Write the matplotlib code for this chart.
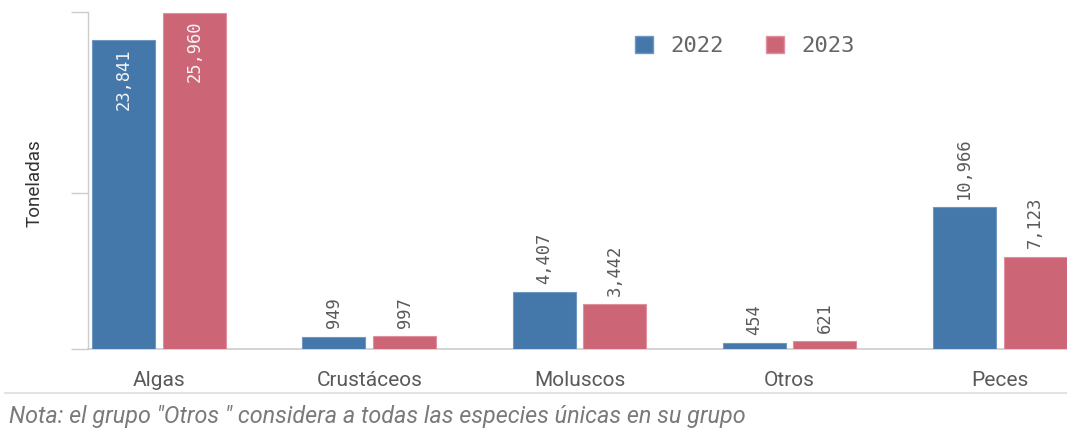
import matplotlib
matplotlib.use("Agg")
import matplotlib.pyplot as plt
import numpy as np
from matplotlib.patches import Rectangle
from matplotlib.lines import Line2D

categories = ["Algas", "Crustáceos", "Moluscos", "Otros", "Peces"]
series_names = ["2022", "2023"]
values_2022 = [23841, 949, 4407, 454, 10966]
values_2023 = [25960, 997, 3442, 621, 7123]
ytick_values = [0, 12000, 26000]
y_label = "Toneladas"
note = 'Nota: el grupo "Otros " considera a todas las especies únicas en su grupo'

colors = ["#4477aa", "#cc6677"]
edge_colors = ["#6f97c4", "#e0909c"]

W, H = 1067, 437
fig = plt.figure(figsize=(W / 100, H / 100), dpi=100)
ax = fig.add_axes([88 / W, 1 - 349 / H, (W - 88) / W, 337 / H])

x = np.arange(len(categories))
offset = 0.168
width = 0.30
mono = "DejaVu Sans Mono"

def fmt(v):
    return f"{v:,}"

for i, (vals, c, ec) in enumerate(zip([values_2022, values_2023], colors, edge_colors)):
    pos = x + (-offset if i == 0 else offset)
    ax.bar(pos, vals, width=width, color=c, edgecolor=ec, linewidth=0.8, zorder=3)
    for p, v in zip(pos, vals):
        if v > 20000:
            ax.annotate(fmt(v), (p, v), xytext=(0, -6), textcoords="offset points",
                        rotation=90, ha="center", va="top", color="#f4f4f4",
                        fontsize=12.3, family=mono)
        else:
            ax.annotate(fmt(v), (p, v), xytext=(0, 6), textcoords="offset points",
                        rotation=90, ha="center", va="bottom", color="#5a5a5a",
                        fontsize=12.3, family=mono)

ax.set_xlim(-0.338, 4.32)
ax.set_ylim(0, 26000)
ax.set_yticks(ytick_values)
ax.set_yticklabels([])
ax.tick_params(axis="y", length=12, color="#cccccc", width=1)
ax.set_xticks(x)
ax.set_xticklabels(categories, fontsize=15, color="#595959", family="Roboto")
ax.tick_params(axis="x", length=0, pad=16)
for s in ["top", "right"]:
    ax.spines[s].set_visible(False)
ax.spines["left"].set_color("#cccccc")
ax.spines["bottom"].set_color("#cccccc")
ax.spines["left"].set_linewidth(1)
ax.spines["bottom"].set_linewidth(1.2)

fig.text(35 / W, 1 - 183 / H, y_label, rotation=90, ha="center", va="center",
         fontsize=13.6, color="#333333", family="Roboto")

# legend
handles = [Rectangle((0, 0), 1, 1, facecolor=c, edgecolor=ec) for c, ec in zip(colors, edge_colors)]
leg = fig.legend(handles, series_names, loc="center left", bbox_to_anchor=(615 / W, 1 - 46 / H),
                 ncol=2, frameon=False, prop={"family": mono, "size": 16},
                 handlelength=0.8, handleheight=0.8, columnspacing=1.9, handletextpad=0.8,
                 labelcolor="#666666")

# separator line and note
fig.add_artist(Line2D([5 / W, 1], [1 - 393 / H, 1 - 393 / H], color="#dddddd", linewidth=1.2))
fig.text(9 / W, 1 - 416 / H, note, ha="left", va="center", fontsize=16.8,
         color="#7a7a7a", style="italic", family="Roboto")

fig.savefig("out.png", dpi=100)
